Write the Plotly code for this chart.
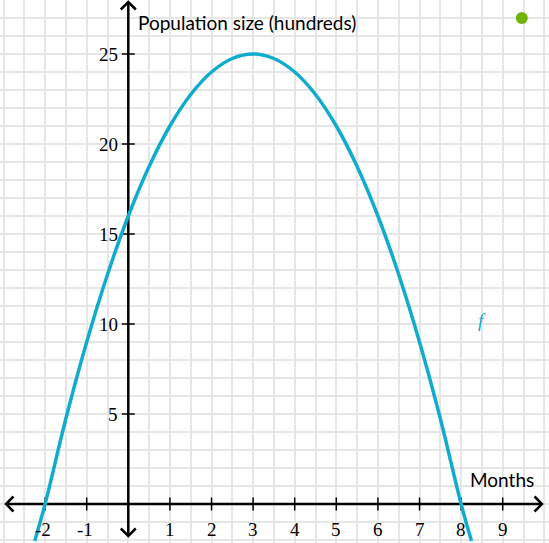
"""
Population growth model: parabola f over months, drawn on a grid with arrowed axes.
"""

import plotly.graph_objects as go

# Data
months = [-2.25, -2, -1.5, -1, -0.5, 0, 0.5, 1, 1.5, 2, 2.5, 3,
          3.5, 4, 4.5, 5, 5.5, 6, 6.5, 7, 7.5, 8, 8.25]
population = [-2.06, 0, 4.75, 9, 12.75, 16, 18.75, 21, 22.75, 24, 24.75, 25,
              24.75, 24, 22.75, 21, 18.75, 16, 12.75, 9, 4.75, 0, -2.06]

x_ticks = [-2, -1, 1, 2, 3, 4, 5, 6, 7, 8, 9]
y_ticks = [5, 10, 15, 20, 25]

dot_x = [9.46]
dot_y = [27.0]

# Canvas / scale (pixels per unit)
W, H = 549, 543
PX_X = 41.6
PX_Y = 18.0
ORIGIN_PX = (128.3, 504.0)  # pixel position of (0, 0) from top-left

x_range = [-ORIGIN_PX[0] / PX_X, (W - ORIGIN_PX[0]) / PX_X]
y_range = [-(H - ORIGIN_PX[1]) / PX_Y, ORIGIN_PX[1] / PX_Y]

BLUE = "#11accd"
GREEN = "#71b307"
INK = "#000000"
SERIF = "Liberation Serif"
SANS = "Lato"


def dx(px):
    return px / PX_X


def dy(px):
    return px / PX_Y


fig = go.Figure()

# Axis lines
ax_left = x_range[0] + dx(6)
ax_right = x_range[1] - dx(7)
ay_top = y_range[1] - dy(2)
ay_bottom = y_range[0] + dy(7)

fig.add_trace(go.Scatter(
    x=[ax_left, ax_right], y=[0, 0], mode="lines",
    line={"color": INK, "width": 2.5}, hoverinfo="skip", showlegend=False,
))
fig.add_trace(go.Scatter(
    x=[0, 0], y=[ay_bottom, ay_top], mode="lines",
    line={"color": INK, "width": 2.5}, hoverinfo="skip", showlegend=False,
))

# Chevron arrowheads
a = 7.5
arrows_x, arrows_y = [], []
# left
arrows_x += [ax_left + dx(a), ax_left, ax_left + dx(a), None]
arrows_y += [dy(a), 0, -dy(a), None]
# right
arrows_x += [ax_right - dx(a), ax_right, ax_right - dx(a), None]
arrows_y += [dy(a), 0, -dy(a), None]
# top
arrows_x += [-dx(a), 0, dx(a), None]
arrows_y += [ay_top - dy(a), ay_top, ay_top - dy(a), None]
# bottom
arrows_x += [-dx(a), 0, dx(a), None]
arrows_y += [ay_bottom + dy(a), ay_bottom, ay_bottom + dy(a), None]
fig.add_trace(go.Scatter(
    x=arrows_x, y=arrows_y, mode="lines",
    line={"color": INK, "width": 2.5}, hoverinfo="skip", showlegend=False,
))

# Tick marks
tx, ty = [], []
for v in x_ticks:
    tx += [v, v, None]
    ty += [-dy(6.5), dy(6.5), None]
for v in y_ticks:
    tx += [-dx(6.5), dx(6.5), None]
    ty += [v, v, None]
fig.add_trace(go.Scatter(
    x=tx, y=ty, mode="lines",
    line={"color": INK, "width": 1.5}, hoverinfo="skip", showlegend=False,
))

# The function f
fig.add_trace(go.Scatter(
    x=months, y=population, mode="lines",
    line={"color": BLUE, "width": 3.5, "shape": "spline"},
    name="f", showlegend=False,
))

# Green point
fig.add_trace(go.Scatter(
    x=dot_x, y=dot_y, mode="markers",
    marker={"color": GREEN, "size": 12}, hoverinfo="skip", showlegend=False,
))

# Tick labels
for v in x_ticks:
    fig.add_annotation(
        x=v - (dx(2) if v < 0 else 0), y=-dy(25), text=str(v), showarrow=False,
        font={"family": SERIF, "size": 19, "color": INK},
        xanchor="center", yanchor="middle",
    )
for v in y_ticks:
    fig.add_annotation(
        x=-dx(8), y=v, text=str(v), showarrow=False,
        font={"family": SERIF, "size": 19, "color": INK},
        xanchor="right", yanchor="middle",
    )

# Axis titles and function label
fig.add_annotation(
    x=dx(8), y=y_range[1] - dy(22), text="Population size (hundreds)",
    showarrow=False, font={"family": SANS, "size": 19, "color": INK},
    xanchor="left", yanchor="middle",
)
fig.add_annotation(
    x=x_range[1] - dx(13), y=dy(25), text="Months",
    showarrow=False, font={"family": SANS, "size": 19, "color": INK},
    xanchor="right", yanchor="middle",
)
fig.add_annotation(
    x=8.5, y=10.2, text="<i>f</i>", showarrow=False,
    font={"family": SERIF, "size": 19, "color": BLUE},
)

fig.update_layout(
    width=W,
    height=H,
    margin={"l": 0, "r": 0, "t": 0, "b": 0},
    plot_bgcolor="white",
    paper_bgcolor="white",
    hovermode=False,
    xaxis={
        "range": x_range, "dtick": 0.5, "tick0": 0,
        "showgrid": True, "gridcolor": "#e6e6e6", "gridwidth": 2,
        "showticklabels": False, "zeroline": False, "showline": False,
        "fixedrange": True,
    },
    yaxis={
        "range": y_range, "dtick": 1, "tick0": 0,
        "showgrid": True, "gridcolor": "#e6e6e6", "gridwidth": 2,
        "showticklabels": False, "zeroline": False, "showline": False,
        "fixedrange": True,
    },
)

# The page's default body margin would push the chart off the window
fig.write_html(
    "out.html",
    config={"displayModeBar": False},
    post_script="document.body.style.margin = '0';",
)
